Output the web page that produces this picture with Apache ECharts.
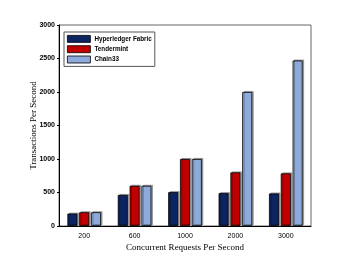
<!DOCTYPE html>
<html><head><meta charset="utf-8">
<script src="https://cdn.jsdelivr.net/npm/echarts@6/dist/echarts.min.js"></script>
<style>html,body{margin:0;padding:0;background:#fff}#c{width:344px;height:261px}</style>
</head><body><div id="c"></div>
<script>
const categories = ['200', '600', '1000', '2000', '3000'];
const fabric = [185, 463, 505, 490, 485];
const tendermint = [205, 600, 1000, 800, 785];
const chain33 = [205, 600, 1000, 2000, 2470];
const yTicks = [0, 500, 1000, 1500, 2000, 2500, 3000];

const chart = echarts.init(document.getElementById('c'));
const barStyle = (c) => ({color: c, borderColor: '#000', borderWidth: 0.8,
  shadowColor: 'rgba(0,0,0,0.35)', shadowOffsetX: 1.5, shadowOffsetY: -1, shadowBlur: 0});
chart.setOption({
  animation: false,
  grid: {left: 59, right: 33, top: 25, bottom: 35, show: true, borderColor: '#666', borderWidth: 1},
  legend: {
    left: 64, top: 32, orient: 'vertical', itemWidth: 23, itemHeight: 7, itemGap: 2.5,
    icon: 'rect',
    padding: [3, 3, 3, 3], borderColor: '#555', borderWidth: 1,
    textStyle: {fontFamily: 'Liberation Sans', fontSize: 6.3, fontWeight: 'bold', color: '#000', padding: [0, 0, 0, -1]},
    itemStyle: {borderColor: '#000', borderWidth: 0.8},
    data: ['Hyperledger Fabric', 'Tendermint', 'Chain33']
  },
  xAxis: {
    type: 'category', data: categories,
    axisLine: {lineStyle: {color: '#000', width: 1}}, axisTick: {show: false},
    axisLabel: {fontFamily: 'Liberation Sans', fontSize: 7, color: '#000', margin: 7},
    name: 'Concurrent Requests Per Second', nameLocation: 'middle', nameGap: 17,
    nameMoveOverlap: false,
    nameTextStyle: {fontFamily: 'Liberation Serif', fontSize: 9, color: '#000'}
  },
  yAxis: {
    type: 'value', min: 0, max: 3000, interval: 500,
    axisLine: {show: true, lineStyle: {color: '#000', width: 1}},
    axisTick: {show: true, length: 2, lineStyle: {color: '#000'}},
    splitLine: {show: false},
    axisLabel: {fontFamily: 'Liberation Sans', fontSize: 7, color: '#000', fontWeight: 'bold', margin: 4,
      formatter: v => yTicks.includes(v) ? String(v) : ''},
    name: 'Transactions Per Second', nameLocation: 'middle', nameGap: 21,
    nameMoveOverlap: false,
    nameTextStyle: {fontFamily: 'Liberation Serif', fontSize: 9, color: '#000'}
  },
  series: [
    {name: 'Hyperledger Fabric', type: 'bar', data: fabric, barWidth: 10, barGap: '18%', itemStyle: barStyle('#0c2461')},
    {name: 'Tendermint', type: 'bar', data: tendermint, barWidth: 10, itemStyle: barStyle('#c00000')},
    {name: 'Chain33', type: 'bar', data: chain33, barWidth: 10, itemStyle: barStyle('#8eaadb')}
  ]
});
</script></body></html>
